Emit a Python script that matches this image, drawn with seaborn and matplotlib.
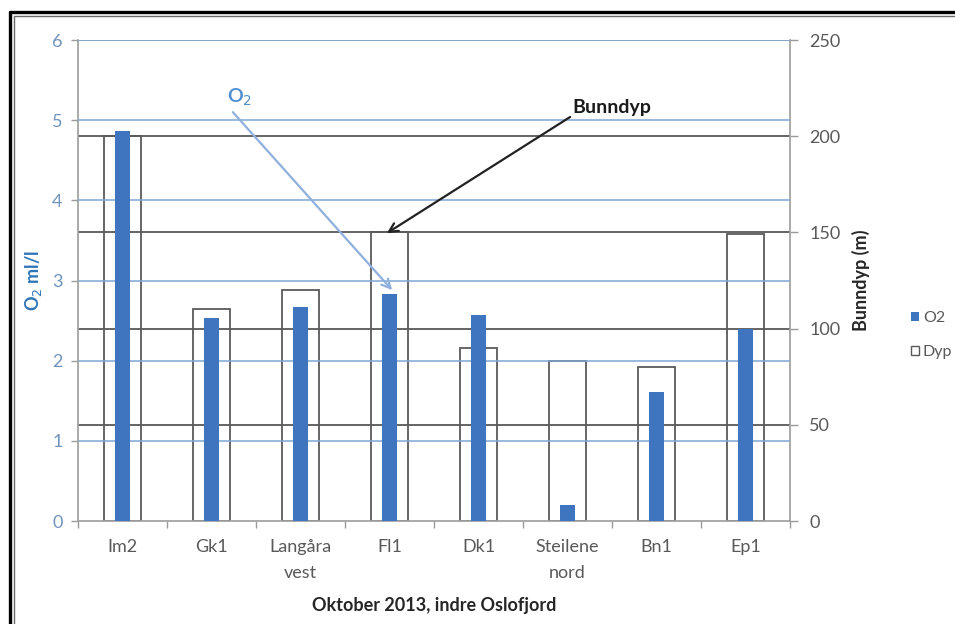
import matplotlib
matplotlib.use("Agg")
import matplotlib.pyplot as plt
import seaborn as sns
import pandas as pd
from matplotlib.lines import Line2D
from matplotlib.patches import Patch

# Stations along the inner Oslofjord, October 2013
stations = ["Im2", "Gk1", "Langåra\nvest", "Fl1", "Dk1", "Steilene\nnord", "Bn1", "Ep1"]
o2_ml_l = [4.86, 2.53, 2.67, 2.83, 2.57, 0.20, 1.61, 2.40]
depth_m = [200, 110, 120, 150, 90, 83, 80, 149]

o2_ticks = [0, 1, 2, 3, 4, 5, 6]
depth_ticks = [0, 50, 100, 150, 200, 250]

df = pd.DataFrame({"stasjon": stations, "O2": o2_ml_l, "Dyp": depth_m})

sns.set_theme(style="white")
plt.rcParams["font.family"] = ["Lato", "DejaVu Sans"]

BLUE = "#3f74bf"
BLUE_GRID = "#7ea6d3"
BLACK_GRID = "#3a3a3a"
BOX_EDGE = "#5a5a5a"
TICK_GRAY = "#595959"

fig = plt.figure(figsize=(9.55, 6.24), dpi=100)
ax = fig.add_axes([78 / 955, 1 - 521 / 624, (790 - 78) / 955, (521 - 40) / 624])
ax2 = ax.twinx()

# Depth (hollow boxes) on the right axis
sns.barplot(data=df, x="stasjon", y="Dyp", ax=ax2, fill=False, color=BOX_EDGE,
            width=0.42, linewidth=1.3, errorbar=None)
# Oxygen (solid blue) on the left axis, drawn on top
sns.barplot(data=df, x="stasjon", y="O2", ax=ax, color=BLUE, saturation=1,
            width=0.165, errorbar=None, zorder=3)
for p in ax.patches:
    p.set_edgecolor("none")

ax.set_zorder(ax2.get_zorder() + 1)
ax.patch.set_visible(False)

ax.set_ylim(0, 6)
ax2.set_ylim(0, 250)
ax.set_xlim(-0.5, len(stations) - 0.5)

# Gridlines: blue for O2, dark for depth
for v in o2_ticks[1:]:
    ax.axhline(v, color=BLUE_GRID, lw=1.1, zorder=1)
for v in depth_ticks[1:-1]:
    ax2.axhline(v, color=BLACK_GRID, lw=1.1, zorder=0)
ax2.axhline(250, color="#8a8a8a", lw=1.1, zorder=0)

ax.set_yticks(o2_ticks)
ax.set_yticklabels([str(t) for t in o2_ticks], color="#6f93bd", fontsize=13)
ax2.set_yticks(depth_ticks)
ax2.set_yticklabels([str(t) for t in depth_ticks], color=TICK_GRAY, fontsize=13)

ax.tick_params(axis="y", length=5, width=1, color="#9a9a9a", pad=6, left=True)
ax2.tick_params(axis="y", length=6, width=1, color="#9a9a9a", pad=8, right=True)

# Category labels, with tick marks between categories
ax.set_xticks(range(len(stations)))
ax.set_xticklabels(stations, fontsize=13, color=TICK_GRAY, linespacing=1.75)
ax.tick_params(axis="x", length=0, pad=13)
ax.set_xticks([i + 0.5 for i in range(-1, len(stations))], minor=True)
ax.tick_params(axis="x", which="minor", length=5, width=1, color="#9a9a9a", bottom=True)
ax2.set_xlabel("")

for a in (ax, ax2):
    for s in a.spines.values():
        s.set_visible(False)
ax.spines["left"].set_visible(True)
ax.spines["left"].set_color("#a0a0a0")
ax.spines["bottom"].set_visible(True)
ax.spines["bottom"].set_color("#a0a0a0")
ax2.spines["right"].set_visible(True)
ax2.spines["right"].set_color("#a0a0a0")

ax.set_xlabel("Oktober 2013, indre Oslofjord", fontsize=13, fontweight="bold",
              color="#262626", labelpad=12)
ax.set_ylabel("O$_2$ ml/l", fontsize=13, fontweight="bold", color="#2e75b6", labelpad=6)
ax2.set_ylabel("Bunndyp (m)", fontsize=13, fontweight="bold", color="#262626", labelpad=8)

# Callouts: labels and arrows
ax.text(1.32, 5.29, "O$_2$", fontsize=14, fontweight="bold", color="#4f8fd0",
        ha="center", va="center")
ax.annotate("", xy=(3.03, 2.88), xytext=(1.24, 5.1),
            arrowprops=dict(arrowstyle="->", color="#8fb0dc", lw=1.6,
                            shrinkA=0, shrinkB=0, mutation_scale=16))
ax.text(5.05, 5.16, "Bunndyp", fontsize=14, fontweight="bold", color="#1a1a1a",
        ha="left", va="center")
ax.annotate("", xy=(2.97, 3.59), xytext=(5.03, 5.04),
            arrowprops=dict(arrowstyle="->", color="#222222", lw=1.6,
                            shrinkA=0, shrinkB=0, mutation_scale=16))

# Legend at the right edge
handles = [Patch(facecolor=BLUE, edgecolor="none", label="O2"),
           Patch(facecolor="white", edgecolor=BOX_EDGE, label="Dyp")]
fig.legend(handles=handles, loc="upper left", bbox_to_anchor=(903 / 955, 1 - 303 / 624),
           frameon=False, fontsize=11.5, handlelength=0.5, handleheight=0.5,
           handletextpad=0.25, labelspacing=1.25, labelcolor=TICK_GRAY, borderpad=0)

# Double frame around the chart
fig.add_artist(Line2D([9.5 / 955, 9.5 / 955], [0, 1 - 11.5 / 624], color="black", lw=2.4,
                      transform=fig.transFigure))
fig.add_artist(Line2D([9.5 / 955, 1], [1 - 11.5 / 624, 1 - 11.5 / 624], color="black", lw=2.4,
                      transform=fig.transFigure))
fig.add_artist(Line2D([14 / 955, 14 / 955], [0, 1 - 15.5 / 624], color="#6a6a6a", lw=1.0,
                      transform=fig.transFigure))
fig.add_artist(Line2D([14 / 955, 1], [1 - 15.5 / 624, 1 - 15.5 / 624], color="#6a6a6a", lw=1.0,
                      transform=fig.transFigure))

fig.savefig("out.png", dpi=100, facecolor="white")
